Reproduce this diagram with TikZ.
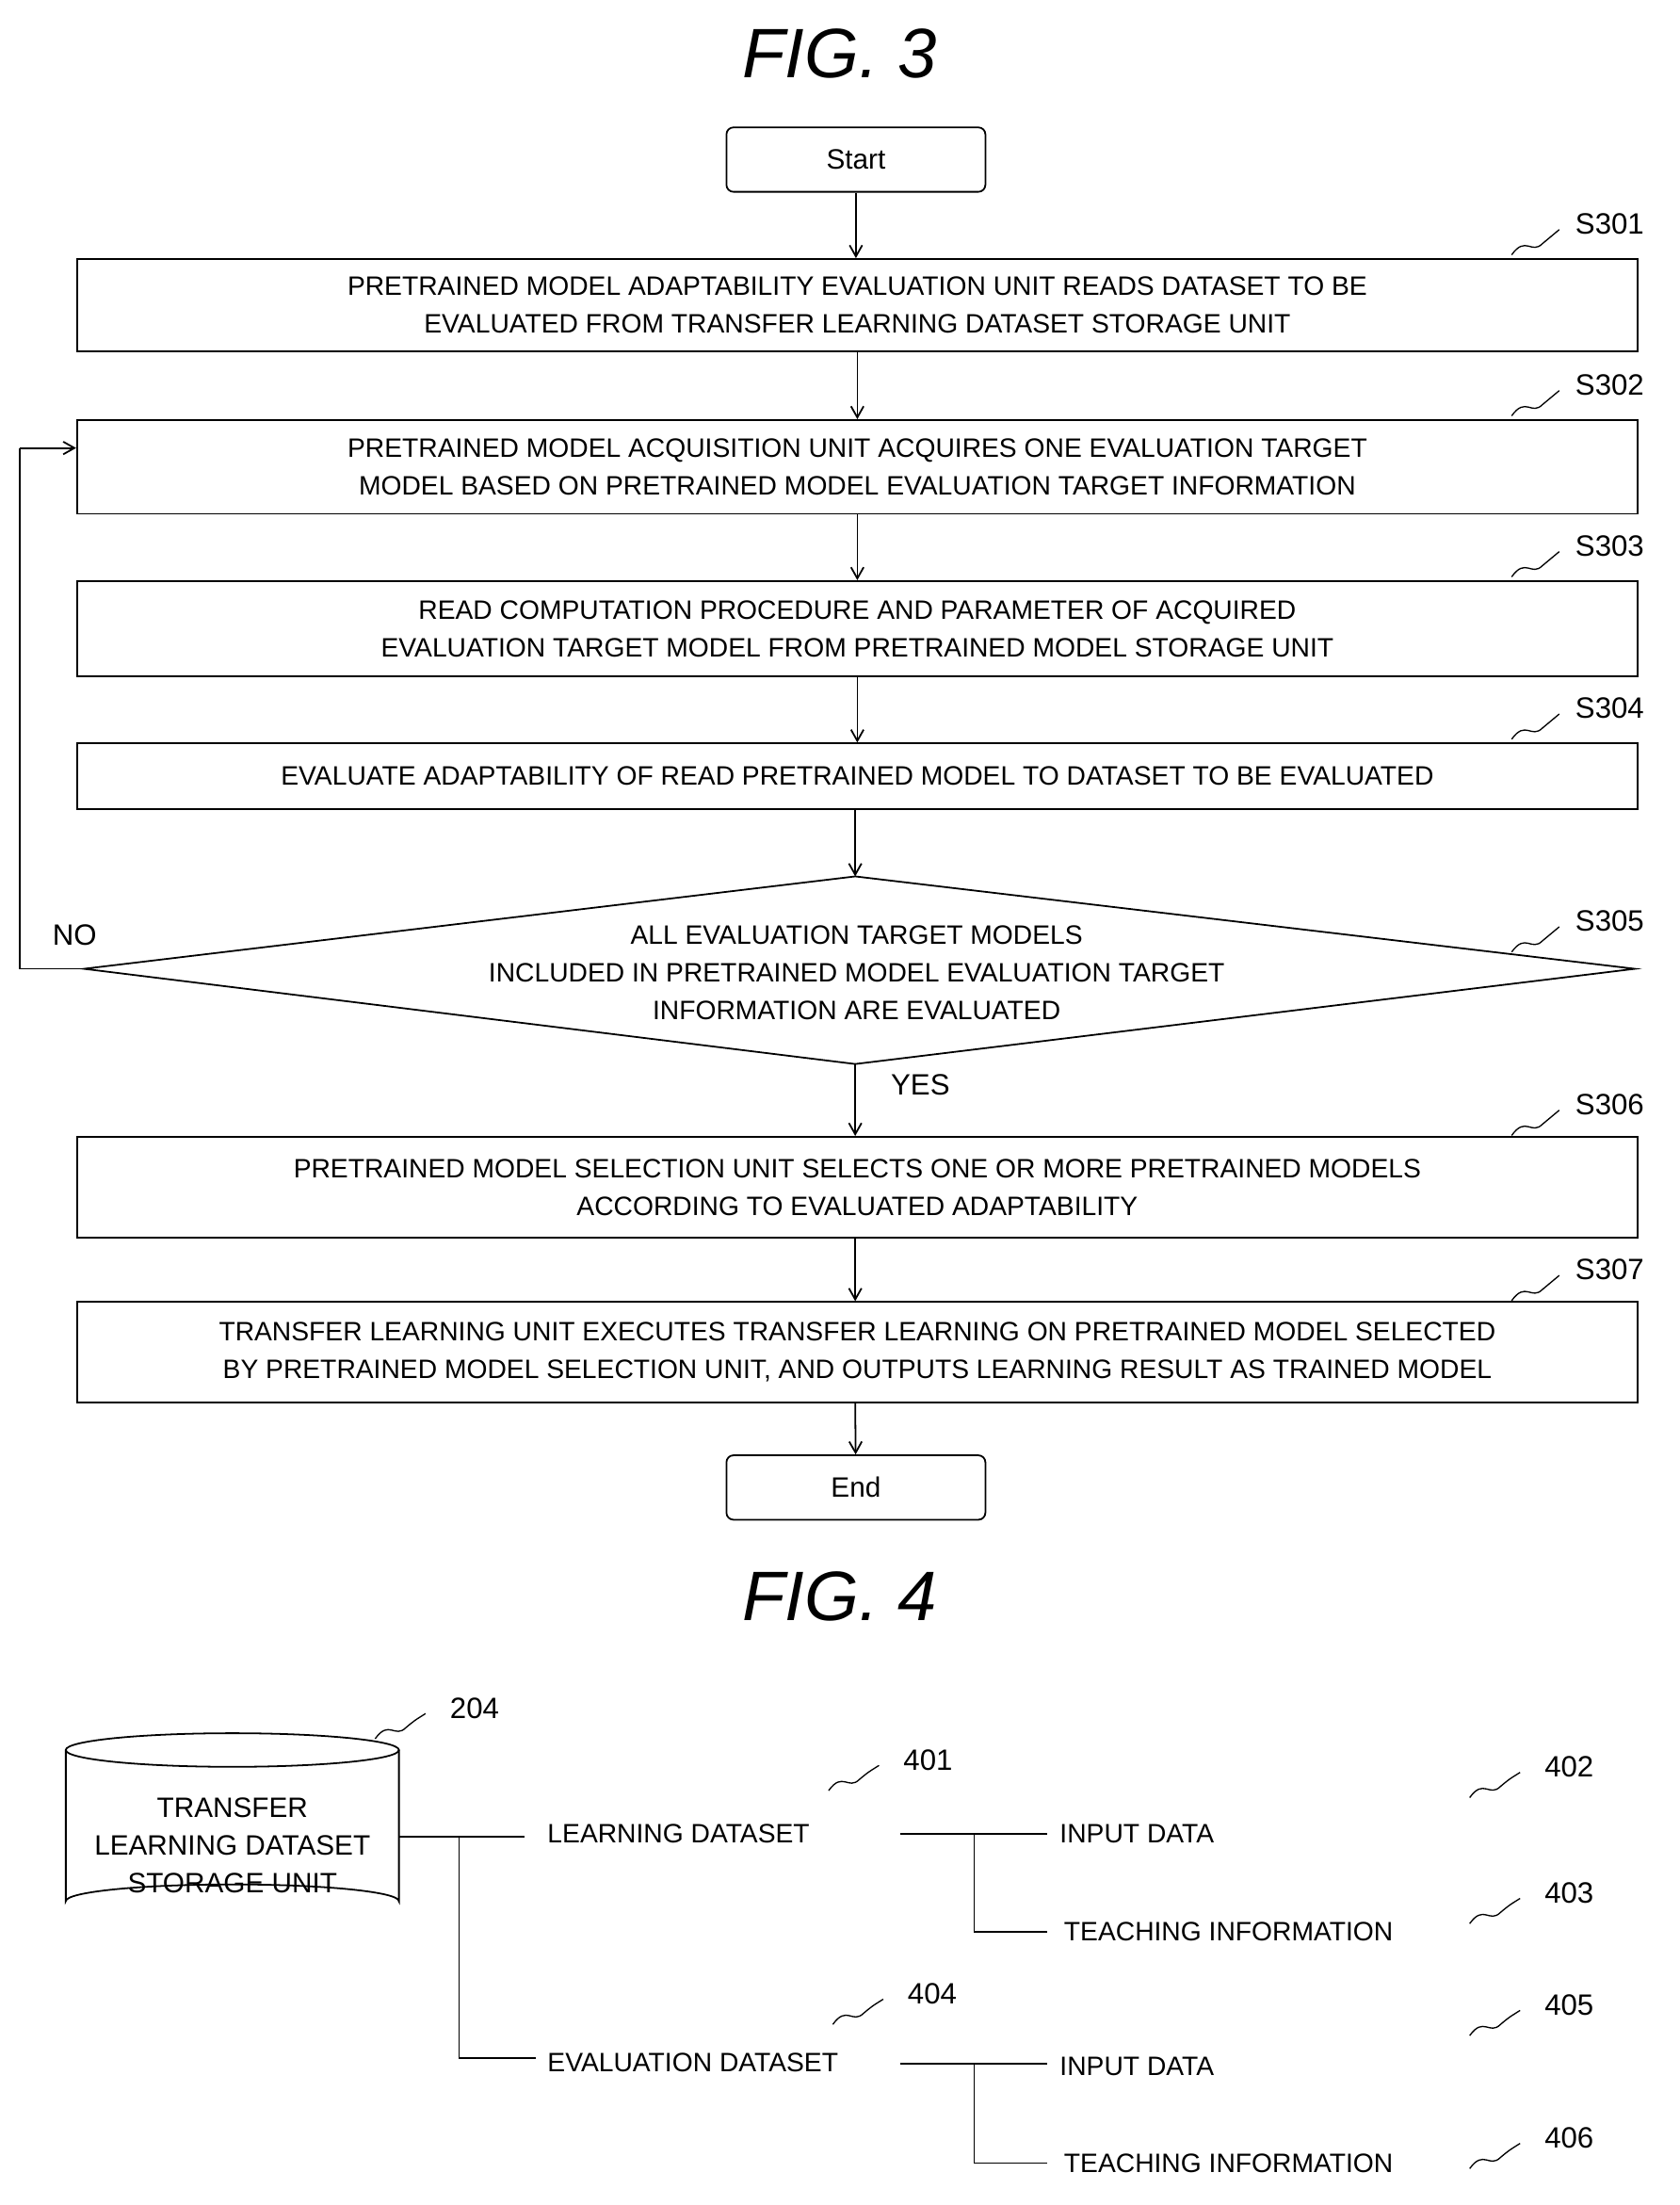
\documentclass[tikz,border=0pt]{standalone}
\usepackage{fontspec}
\setmainfont{Liberation Sans}
\usetikzlibrary{shapes.geometric,arrows.meta}
\begin{document}
\begin{tikzpicture}[x=1pt,y=-1pt,
  box/.style={draw,line width=1.2pt,minimum width=1115pt,align=center,font=\fontsize{19}{27}\selectfont,inner sep=0pt},
  term/.style={draw,line width=1.2pt,rounded corners=5pt,minimum width=185pt,minimum height=46pt,font=\fontsize{20}{24}\selectfont},
  arr/.style={-{Straight Barb[length=8pt,width=9pt]},line width=1.2pt},
  ln/.style={line width=1pt},
  lbl/.style={font=\fontsize{21}{24}\selectfont,anchor=west},
  txt/.style={font=\fontsize{19}{24}\selectfont,anchor=west,inner sep=0pt},
  sq/.style={line width=0.9pt},
  fig/.style={font=\fontsize{50}{56}\itshape\selectfont}]
\useasboundingbox (0,0) rectangle (1200,1575);
\node[fig] (f3) at (600,38) {FIG. 3};
\node[term] (start) at (611.5,114) {Start};
\node[box,minimum height=66pt] (s1) at (612.5,218) {PRETRAINED MODEL ADAPTABILITY EVALUATION UNIT READS DATASET TO BE\\EVALUATED FROM TRANSFER LEARNING DATASET STORAGE UNIT};
\node[box,minimum height=67pt] (s2) at (612.5,333.5) {PRETRAINED MODEL ACQUISITION UNIT ACQUIRES ONE EVALUATION TARGET\\MODEL BASED ON PRETRAINED MODEL EVALUATION TARGET INFORMATION};
\node[box,minimum height=68pt] (s3) at (612.5,449) {READ COMPUTATION PROCEDURE AND PARAMETER OF ACQUIRED\\EVALUATION TARGET MODEL FROM PRETRAINED MODEL STORAGE UNIT};
\node[box,minimum height=47pt] (s4) at (612.5,554.5) {EVALUATE ADAPTABILITY OF READ PRETRAINED MODEL TO DATASET TO BE EVALUATED};
\coordinate (dt) at (611,626); \coordinate (db) at (611,760);
\coordinate (dl) at (60,692); \coordinate (dr) at (1168,692);
\draw[line width=1.2pt] (dt) -- (dr) -- (db) -- (dl) -- cycle;
\node[align=center,font=\fontsize{19}{27}\selectfont] (d) at (612,695) {ALL EVALUATION TARGET MODELS\\INCLUDED IN PRETRAINED MODEL EVALUATION TARGET\\INFORMATION ARE EVALUATED};
\node[box,minimum height=72pt] (s6) at (612.5,848) {PRETRAINED MODEL SELECTION UNIT SELECTS ONE OR MORE PRETRAINED MODELS\\ACCORDING TO EVALUATED ADAPTABILITY};
\node[box,minimum height=72pt] (s7) at (612.5,966) {TRANSFER LEARNING UNIT EXECUTES TRANSFER LEARNING ON PRETRAINED MODEL SELECTED\\BY PRETRAINED MODEL SELECTION UNIT, AND OUTPUTS LEARNING RESULT AS TRAINED MODEL};
\node[term] (end) at (611.5,1062.5) {End};
\draw[arr] (start) -- (start|-s1.north);
\draw[arr] (s1) -- (s1.south|-s2.north);
\draw[arr] (s2) -- (s2.south|-s3.north);
\draw[arr] (s3) -- (s3.south|-s4.north);
\draw[arr] (s4.south-|dt) -- (dt);
\draw[arr] (db) -- (db|-s6.north);
\draw[arr] (s6.south-|db) -- (db|-s7.north);
\draw[arr] (s7.south-|db) -- (end);
\coordinate (nl) at (14,692); \coordinate (nt) at (14,320);
\draw[line width=1.2pt] (dl) -- (nl) -- (nt);
\draw[arr] (nt) -- (nt-|s2.west);
\node[lbl] (no) at (34,668) {NO};
\node[lbl] (yes) at (633,775) {YES};
\foreach \n/\y in {S301/160,S302/275,S303/390,S304/506,S305/658,S306/789,S307/907}{
  \node[lbl] (l\n) at (1122,\y) {\n};
  \draw[sq] (1080,\y+22) .. controls (1090,\y+8) and (1094,\y+22) .. (1102,\y+14) .. controls (1108,\y+9) .. (1114,\y+4);
}
\node[fig] (f4) at (600,1140) {FIG. 4};
% cylinder
\draw[line width=1.2pt] (47,1250) -- (47,1358) arc[start angle=180,end angle=360,x radius=119,y radius=12] -- (285,1250);
\draw[line width=1.2pt] (166,1250) ellipse [x radius=119,y radius=12];
\node[align=center,font=\fontsize{20}{27}\selectfont] (cyl) at (166,1318) {TRANSFER\\LEARNING DATASET\\STORAGE UNIT};
\node[txt] (ld) at (391,1310) {LEARNING DATASET};
\node[txt] (ed) at (391,1473) {EVALUATION DATASET};
\node[txt] (i1) at (757,1310) {INPUT DATA};
\node[txt] (t1) at (760,1380) {TEACHING INFORMATION};
\node[txt] (i2) at (757,1476) {INPUT DATA};
\node[txt] (t2) at (760,1545) {TEACHING INFORMATION};
\draw[ln] (285,1312) -- (375,1312);
\draw[ln] (328,1312) |- (383,1470);
\draw[ln] (643,1310) -- (748,1310);
\draw[ln] (696,1310) |- (748,1380);
\draw[ln] (643,1474) -- (748,1474);
\draw[ln] (696,1474) |- (748,1545);
\foreach \n/\x/\y in {204/318/1220,401/642/1257,402/1100/1262,403/1100/1352,404/645/1424,405/1100/1432,406/1100/1527}{
  \node[lbl] (r\n) at (\x,\y) {\n};
  \draw[sq] (\x-50,\y+22) .. controls (\x-40,\y+8) and (\x-36,\y+22) .. (\x-28,\y+14) .. controls (\x-22,\y+9) .. (\x-14,\y+4);
}
\end{tikzpicture}
\end{document}
